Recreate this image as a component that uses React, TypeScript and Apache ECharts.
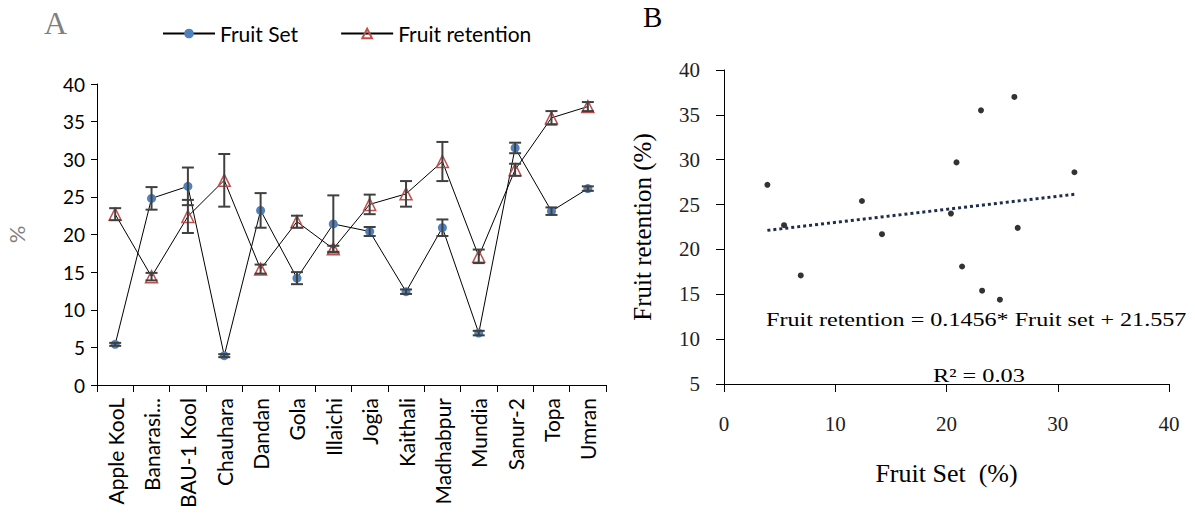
import React, { useEffect, useRef } from "react";
import * as echarts from "echarts";

const cultivars = ["Apple KooL", "Banarasi...", "BAU-1 Kool", "Chauhara", "Dandan", "Gola", "Illaichi", "Jogia", "Kaithali", "Madhabpur", "Mundia", "Sanur-2", "Topa", "Umran"];
const fruitSet = [5.4, 24.8, 26.4, 3.9, 23.2, 14.2, 21.4, 20.4, 12.4, 20.9, 6.9, 31.5, 23.1, 26.1];
const fruitSetErr = [0.2, 1.5, 2.5, 0.2, 2.3, 0.8, 3.8, 0.6, 0.3, 1.1, 0.3, 0.7, 0.5, 0.3];
const fruitRetention = [22.7, 14.4, 22.4, 27.2, 15.4, 21.7, 18.1, 24.0, 25.4, 29.7, 17.1, 28.6, 35.5, 37.0];
const fruitRetentionErr = [0.8, 0.5, 2.2, 3.5, 0.6, 0.8, 0.4, 1.3, 1.7, 2.6, 0.9, 0.8, 0.9, 0.6];
const trendSlope = 0.1456;
const trendIntercept = 21.557;

const SANS = "Lato";
const SERIF = "Liberation Serif";

export default function App() {
  const ref = useRef<HTMLDivElement>(null);
  useEffect(() => {
    document.body.style.margin = "0";
    const chart = echarts.init(ref.current!, null, { renderer: "svg" });

    const errData = (vals: number[], errs: number[]) => vals.map((v, i) => [i, v - errs[i], v + errs[i]]);
    const scatterData = fruitSet.map((x, i) => [x, fruitRetention[i]]);
    const xMin = Math.min(...fruitSet);
    const xMax = Math.max(...fruitSet);
    const trendData = [
      [xMin, trendSlope * xMin + trendIntercept],
      [xMax, trendSlope * xMax + trendIntercept],
    ];

    const errRender = (params: any, api: any) => {
      const lo = api.coord([api.value(0), api.value(1)]);
      const hi = api.coord([api.value(0), api.value(2)]);
      const w = 6;
      const st = { stroke: "#404040", lineWidth: 2 };
      return {
        type: "group",
        children: [
          { type: "line", shape: { x1: lo[0], y1: lo[1], x2: hi[0], y2: hi[1] }, style: st },
          { type: "line", shape: { x1: lo[0] - w, y1: lo[1], x2: lo[0] + w, y2: lo[1] }, style: st },
          { type: "line", shape: { x1: hi[0] - w, y1: hi[1], x2: hi[0] + w, y2: hi[1] }, style: st },
        ],
      };
    };

    chart.setOption({
      animation: false,
      legend: {
        data: ["Fruit Set", "Fruit retention"],
        left: 157,
        top: 18,
        itemWidth: 52,
        itemHeight: 12,
        itemGap: 42,
        textStyle: { fontFamily: SANS, fontSize: 21, color: "#000" },
      },
      grid: [
        { left: 97, top: 84, width: 509, height: 301 },
        { left: 724, top: 70, width: 445, height: 314 },
      ],
      xAxis: [
        {
          type: "category",
          gridIndex: 0,
          data: cultivars,
          boundaryGap: true,
          axisLine: { lineStyle: { color: "#000", width: 1 } },
          axisTick: { show: true, length: 7, lineStyle: { color: "#000" } },
          axisLabel: { rotate: 90, interval: 0, fontFamily: SANS, fontSize: 21, color: "#000", margin: 13 },
          splitLine: { show: false },
        },
        {
          type: "value",
          gridIndex: 1,
          min: 0,
          max: 40,
          interval: 10,
          axisLine: { onZero: false, lineStyle: { color: "#000", width: 1 } },
          axisTick: { show: true, length: 8, lineStyle: { color: "#000" } },
          axisLabel: { fontFamily: SERIF, fontSize: 21, color: "#222", margin: 29 },
          splitLine: { show: false },
          name: "Fruit Set  (%)",
          nameLocation: "middle",
          nameGap: 76,
          nameTextStyle: { fontFamily: SERIF, fontSize: 26, color: "#000" },
        },
      ],
      yAxis: [
        {
          type: "value",
          gridIndex: 0,
          min: 0,
          max: 40,
          interval: 5,
          axisLine: { show: true, lineStyle: { color: "#000", width: 1 } },
          axisTick: { show: true, length: 6, lineStyle: { color: "#000" } },
          axisLabel: { fontFamily: SANS, fontSize: 19, color: "#000", margin: 12 },
          splitLine: { show: false },
          name: "%",
          nameLocation: "middle",
          nameGap: 70,
          nameTextStyle: { fontFamily: SANS, fontSize: 22, color: "#808080" },
        },
        {
          type: "value",
          gridIndex: 1,
          min: 5,
          max: 40,
          interval: 5,
          axisLine: { show: true, onZero: false, lineStyle: { color: "#000", width: 1 } },
          axisTick: { show: true, length: 8, lineStyle: { color: "#000" } },
          axisLabel: { fontFamily: SERIF, fontSize: 21, color: "#222", margin: 24 },
          splitLine: { show: false },
          name: "Fruit retention (%)",
          nameLocation: "middle",
          nameGap: 69,
          nameTextStyle: { fontFamily: SERIF, fontSize: 25, color: "#000" },
        },
      ],
      series: [
        {
          name: "Fruit Set",
          type: "line",
          xAxisIndex: 0,
          yAxisIndex: 0,
          data: fruitSet,
          symbol: "circle",
          symbolSize: 9,
          lineStyle: { color: "#000", width: 1 },
          itemStyle: { color: "#4f81bd" },
          z: 3,
        },
        {
          name: "Fruit retention",
          type: "line",
          xAxisIndex: 0,
          yAxisIndex: 0,
          data: fruitRetention,
          symbol: "triangle",
          symbolSize: 12,
          lineStyle: { color: "#000", width: 1 },
          itemStyle: { color: "rgba(255,255,255,0)", borderColor: "#c0504d", borderWidth: 1.5 },
          z: 3,
        },
        {
          type: "custom",
          xAxisIndex: 0,
          yAxisIndex: 0,
          data: errData(fruitSet, fruitSetErr),
          encode: { x: 0, y: [1, 2] },
          renderItem: errRender,
          z: 4,
        },
        {
          type: "custom",
          xAxisIndex: 0,
          yAxisIndex: 0,
          data: errData(fruitRetention, fruitRetentionErr),
          encode: { x: 0, y: [1, 2] },
          renderItem: errRender,
          z: 4,
        },
        {
          type: "scatter",
          xAxisIndex: 1,
          yAxisIndex: 1,
          data: scatterData,
          symbol: "circle",
          symbolSize: 6,
          itemStyle: { color: "#000" },
        },
        {
          type: "line",
          xAxisIndex: 1,
          yAxisIndex: 1,
          data: trendData,
          symbol: "none",
          lineStyle: { color: "#1f2d4d", width: 3, type: [3, 3] },
        },
      ],
      graphic: [
        { type: "text", left: 44, top: 7, style: { text: "A", fontFamily: SERIF, fontSize: 32, fill: "#808080" } },
        { type: "text", left: 643, top: 2, style: { text: "B", fontFamily: SERIF, fontSize: 29, fill: "#000" } },
        {
          type: "text",
          x: 766,
          y: 310,
          scaleX: 1.27,
          style: { text: "Fruit retention = 0.1456* Fruit set + 21.557", fontFamily: SERIF, fontSize: 19, fill: "#000" },
        },
        { type: "text", x: 933, y: 366, scaleX: 1.28, style: { text: "R² = 0.03", fontFamily: SERIF, fontSize: 19, fill: "#000" } },
      ],
    });
    return () => chart.dispose();
  }, []);
  return <div ref={ref} style={{ width: 1195, height: 525 }} />;
}
